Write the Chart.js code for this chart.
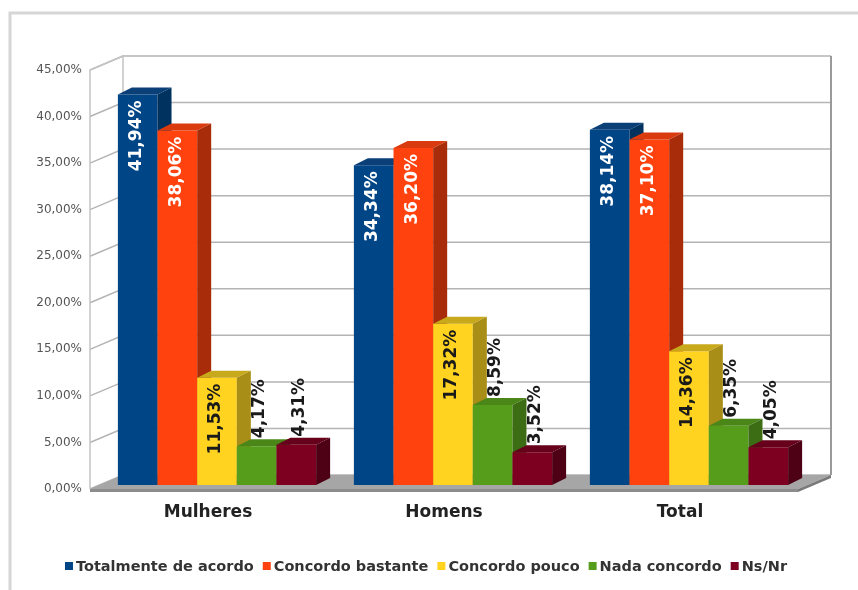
<!DOCTYPE html>
<html>
<head>
<meta charset="utf-8">
<script src="https://cdn.jsdelivr.net/npm/chart.js@4"></script>
<style>
  html, body { margin: 0; padding: 0; background: #fff; }
  #wrap { width: 858px; height: 590px; }
</style>
</head>
<body>
<div id="wrap"><canvas id="grafico" width="858" height="590"></canvas></div>
<script>
// respostas por grupo (%)
const categorias = ["Mulheres", "Homens", "Total"];
const totalmente = [41.94, 34.34, 38.14];
const bastante = [38.06, 36.20, 37.10];
const pouco = [11.53, 17.32, 14.36];
const nada = [4.17, 8.59, 6.35];
const nsnr = [4.31, 3.52, 4.05];
const nomes = ["Totalmente de acordo", "Concordo bastante", "Concordo pouco", "Nada concordo", "Ns/Nr"];

// cores: frente, topo e lado de cada barra
const corFrente = ["#004586", "#ff420e", "#ffd320", "#579d1c", "#7e0021"];
const corTopo = ["#0b3f78", "#d93a0e", "#c9a91c", "#4a8718", "#66001b"];
const corLado = ["#00325f", "#a82c0a", "#a88d16", "#3c6c13", "#4e0015"];
const corRotulo = ["#ffffff", "#ffffff", "#1a1a1a", "#1a1a1a", "#1a1a1a"];
const rotuloDentro = [true, true, true, false, false];

const PAREDE = { dx: 33, dy: -14 };  // profundidade das paredes
const DESLOC = { dx: 9, dy: -4 };    // barras recuadas dentro da profundidade
const BARRA = { dx: 14, dy: -7 };    // espessura das barras

function pct(v) {
    return v.toFixed(2).replace(".", ",") + "%";
}

function poly(ctx, pts, fill) {
    ctx.beginPath();
    ctx.moveTo(pts[0][0], pts[0][1]);
    for (let i = 1; i < pts.length; i++) ctx.lineTo(pts[i][0], pts[i][1]);
    ctx.closePath();
    ctx.fillStyle = fill;
    ctx.fill();
}

const cena3d = {
    id: "cena3d",
    beforeDraw(chart) {
        const ctx = chart.ctx;
        ctx.save();
        ctx.strokeStyle = "#d6d6d6";
        ctx.lineWidth = 3;
        ctx.beginPath();
        ctx.moveTo(10, 590);
        ctx.lineTo(10, 13);
        ctx.lineTo(858, 13);
        ctx.stroke();
        ctx.restore();
    },
    beforeDatasetsDraw(chart) {
        const ctx = chart.ctx;
        const { left, right, top, bottom } = chart.chartArea;
        const ys = chart.scales.y;
        const dx = PAREDE.dx, dy = PAREDE.dy;
        ctx.save();

        // parede do fundo e parede lateral
        poly(ctx, [[left + dx, top + dy], [right + dx, top + dy], [right + dx, bottom + dy], [left + dx, bottom + dy]], "#ffffff");
        poly(ctx, [[left, top], [left + dx, top + dy], [left + dx, bottom + dy], [left, bottom]], "#ffffff");

        ctx.strokeStyle = "#b4b4b4";
        ctx.lineWidth = 1.5;
        ys.ticks.forEach(t => {
            const y = ys.getPixelForValue(t.value);
            ctx.beginPath();
            ctx.moveTo(left, y);
            ctx.lineTo(left + dx, y + dy);
            ctx.lineTo(right + dx, y + dy);
            ctx.stroke();
        });

        ctx.strokeStyle = "#c4c4c4";
        ctx.beginPath();
        ctx.moveTo(left, bottom);
        ctx.lineTo(left, top);
        ctx.lineTo(left + dx, top + dy);
        ctx.lineTo(left + dx, bottom + dy);
        ctx.stroke();

        ctx.strokeStyle = "#9a9a9a";
        ctx.lineWidth = 2;
        ctx.beginPath();
        ctx.moveTo(right + dx, top + dy);
        ctx.lineTo(right + dx, bottom + dy);
        ctx.stroke();

        // piso
        poly(ctx, [[left, bottom], [right, bottom], [right + dx, bottom + dy], [left + dx, bottom + dy]], "#a6a6a6");
        poly(ctx, [[left, bottom], [right, bottom], [right, bottom + 3], [left, bottom + 3]], "#8c8c8c");
        poly(ctx, [[right, bottom], [right + dx, bottom + dy], [right + dx, bottom + dy + 3], [right, bottom + 3]], "#7a7a7a");
        ctx.restore();
    },
    beforeDatasetDraw() {
        // as barras são desenhadas em ordem própria em afterDatasetsDraw
        return false;
    },
    afterDatasetsDraw(chart) {
        const ctx = chart.ctx;
        const nSeries = chart.data.datasets.length;
        ctx.save();
        ctx.translate(DESLOC.dx, DESLOC.dy);

        for (let i = 0; i < chart.data.labels.length; i++) {
            for (let d = 0; d < nSeries; d++) {
                const el = chart.getDatasetMeta(d).data[i];
                const { x, y, base, width } = el.getProps(["x", "y", "base", "width"], true);
                const l = x - width / 2, r = x + width / 2;
                el.draw(ctx);
                poly(ctx, [[l, y], [r, y], [r + BARRA.dx, y + BARRA.dy], [l + BARRA.dx, y + BARRA.dy]], corTopo[d]);
                poly(ctx, [[r, y], [r + BARRA.dx, y + BARRA.dy], [r + BARRA.dx, base + BARRA.dy], [r, base]], corLado[d]);
            }
        }

        // rótulos de valor, girados
        ctx.font = "bold 17px 'DejaVu Sans'";
        ctx.textBaseline = "middle";
        for (let d = 0; d < nSeries; d++) {
            const meta = chart.getDatasetMeta(d);
            meta.data.forEach((el, i) => {
                const v = chart.data.datasets[d].data[i];
                const { x, y } = el.getProps(["x", "y"], true);
                ctx.save();
                ctx.fillStyle = corRotulo[d];
                if (rotuloDentro[d]) {
                    ctx.translate(x - 1, y);
                    ctx.rotate(-Math.PI / 2);
                    ctx.textAlign = "right";
                    ctx.fillText(pct(v), -6, 0);
                } else {
                    ctx.translate(x + 3, y);
                    ctx.rotate(-Math.PI / 2);
                    ctx.textAlign = "left";
                    ctx.fillText(pct(v), 8, 0);
                }
                ctx.restore();
            });
        }
        ctx.restore();
    },
    afterDraw(chart) {
        // legenda compacta em uma linha, centrada sob o gráfico
        const ctx = chart.ctx;
        const ds = chart.data.datasets;
        const caixa = 8, folga = 3, entre = 9, yMeio = 566;
        ctx.save();
        ctx.font = "bold 14.5px 'DejaVu Sans'";
        ctx.textBaseline = "middle";
        ctx.textAlign = "left";
        const larguras = ds.map(s => ctx.measureText(s.label).width);
        const total = larguras.reduce((a, w) => a + caixa + folga + w, 0) + entre * (ds.length - 1);
        let x = 426 - total / 2;
        ds.forEach((s, k) => {
            ctx.fillStyle = s.backgroundColor;
            ctx.fillRect(x, yMeio - caixa / 2, caixa, caixa);
            x += caixa + folga;
            ctx.fillStyle = "#333";
            ctx.fillText(s.label, x, yMeio + 1);
            x += larguras[k] + entre;
        });
        ctx.restore();
    }
};

const valores = [totalmente, bastante, pouco, nada, nsnr];

new Chart(document.getElementById("grafico"), {
    type: "bar",
    data: {
        labels: categorias,
        datasets: valores.map((serie, k) => ({
            label: nomes[k],
            data: serie,
            backgroundColor: corFrente[k],
            borderWidth: 0,
            categoryPercentage: 0.84,
            barPercentage: 1.0
        }))
    },
    options: {
        responsive: false,
        animation: false,
        layout: { padding: { left: 10, right: 60, top: 70, bottom: 35 } },
        scales: {
            x: {
                grid: { display: false, drawTicks: false },
                border: { display: false },
                ticks: {
                    padding: 13,
                    color: "#222",
                    font: { family: "'DejaVu Sans'", size: 17, weight: "bold" }
                },
                afterFit(s) { s.height = 66; }
            },
            y: {
                min: 0,
                max: 45,
                grid: { display: false, drawTicks: false },
                border: { display: false },
                ticks: {
                    stepSize: 5,
                    padding: 8,
                    color: "#555",
                    font: { family: "'DejaVu Sans'", size: 12 },
                    callback: v => pct(v)
                },
                afterFit(s) { s.width = 80; }
            }
        },
        plugins: {
            legend: { display: false },
            tooltip: { enabled: false }
        }
    },
    plugins: [cena3d]
});
</script>
</body>
</html>
